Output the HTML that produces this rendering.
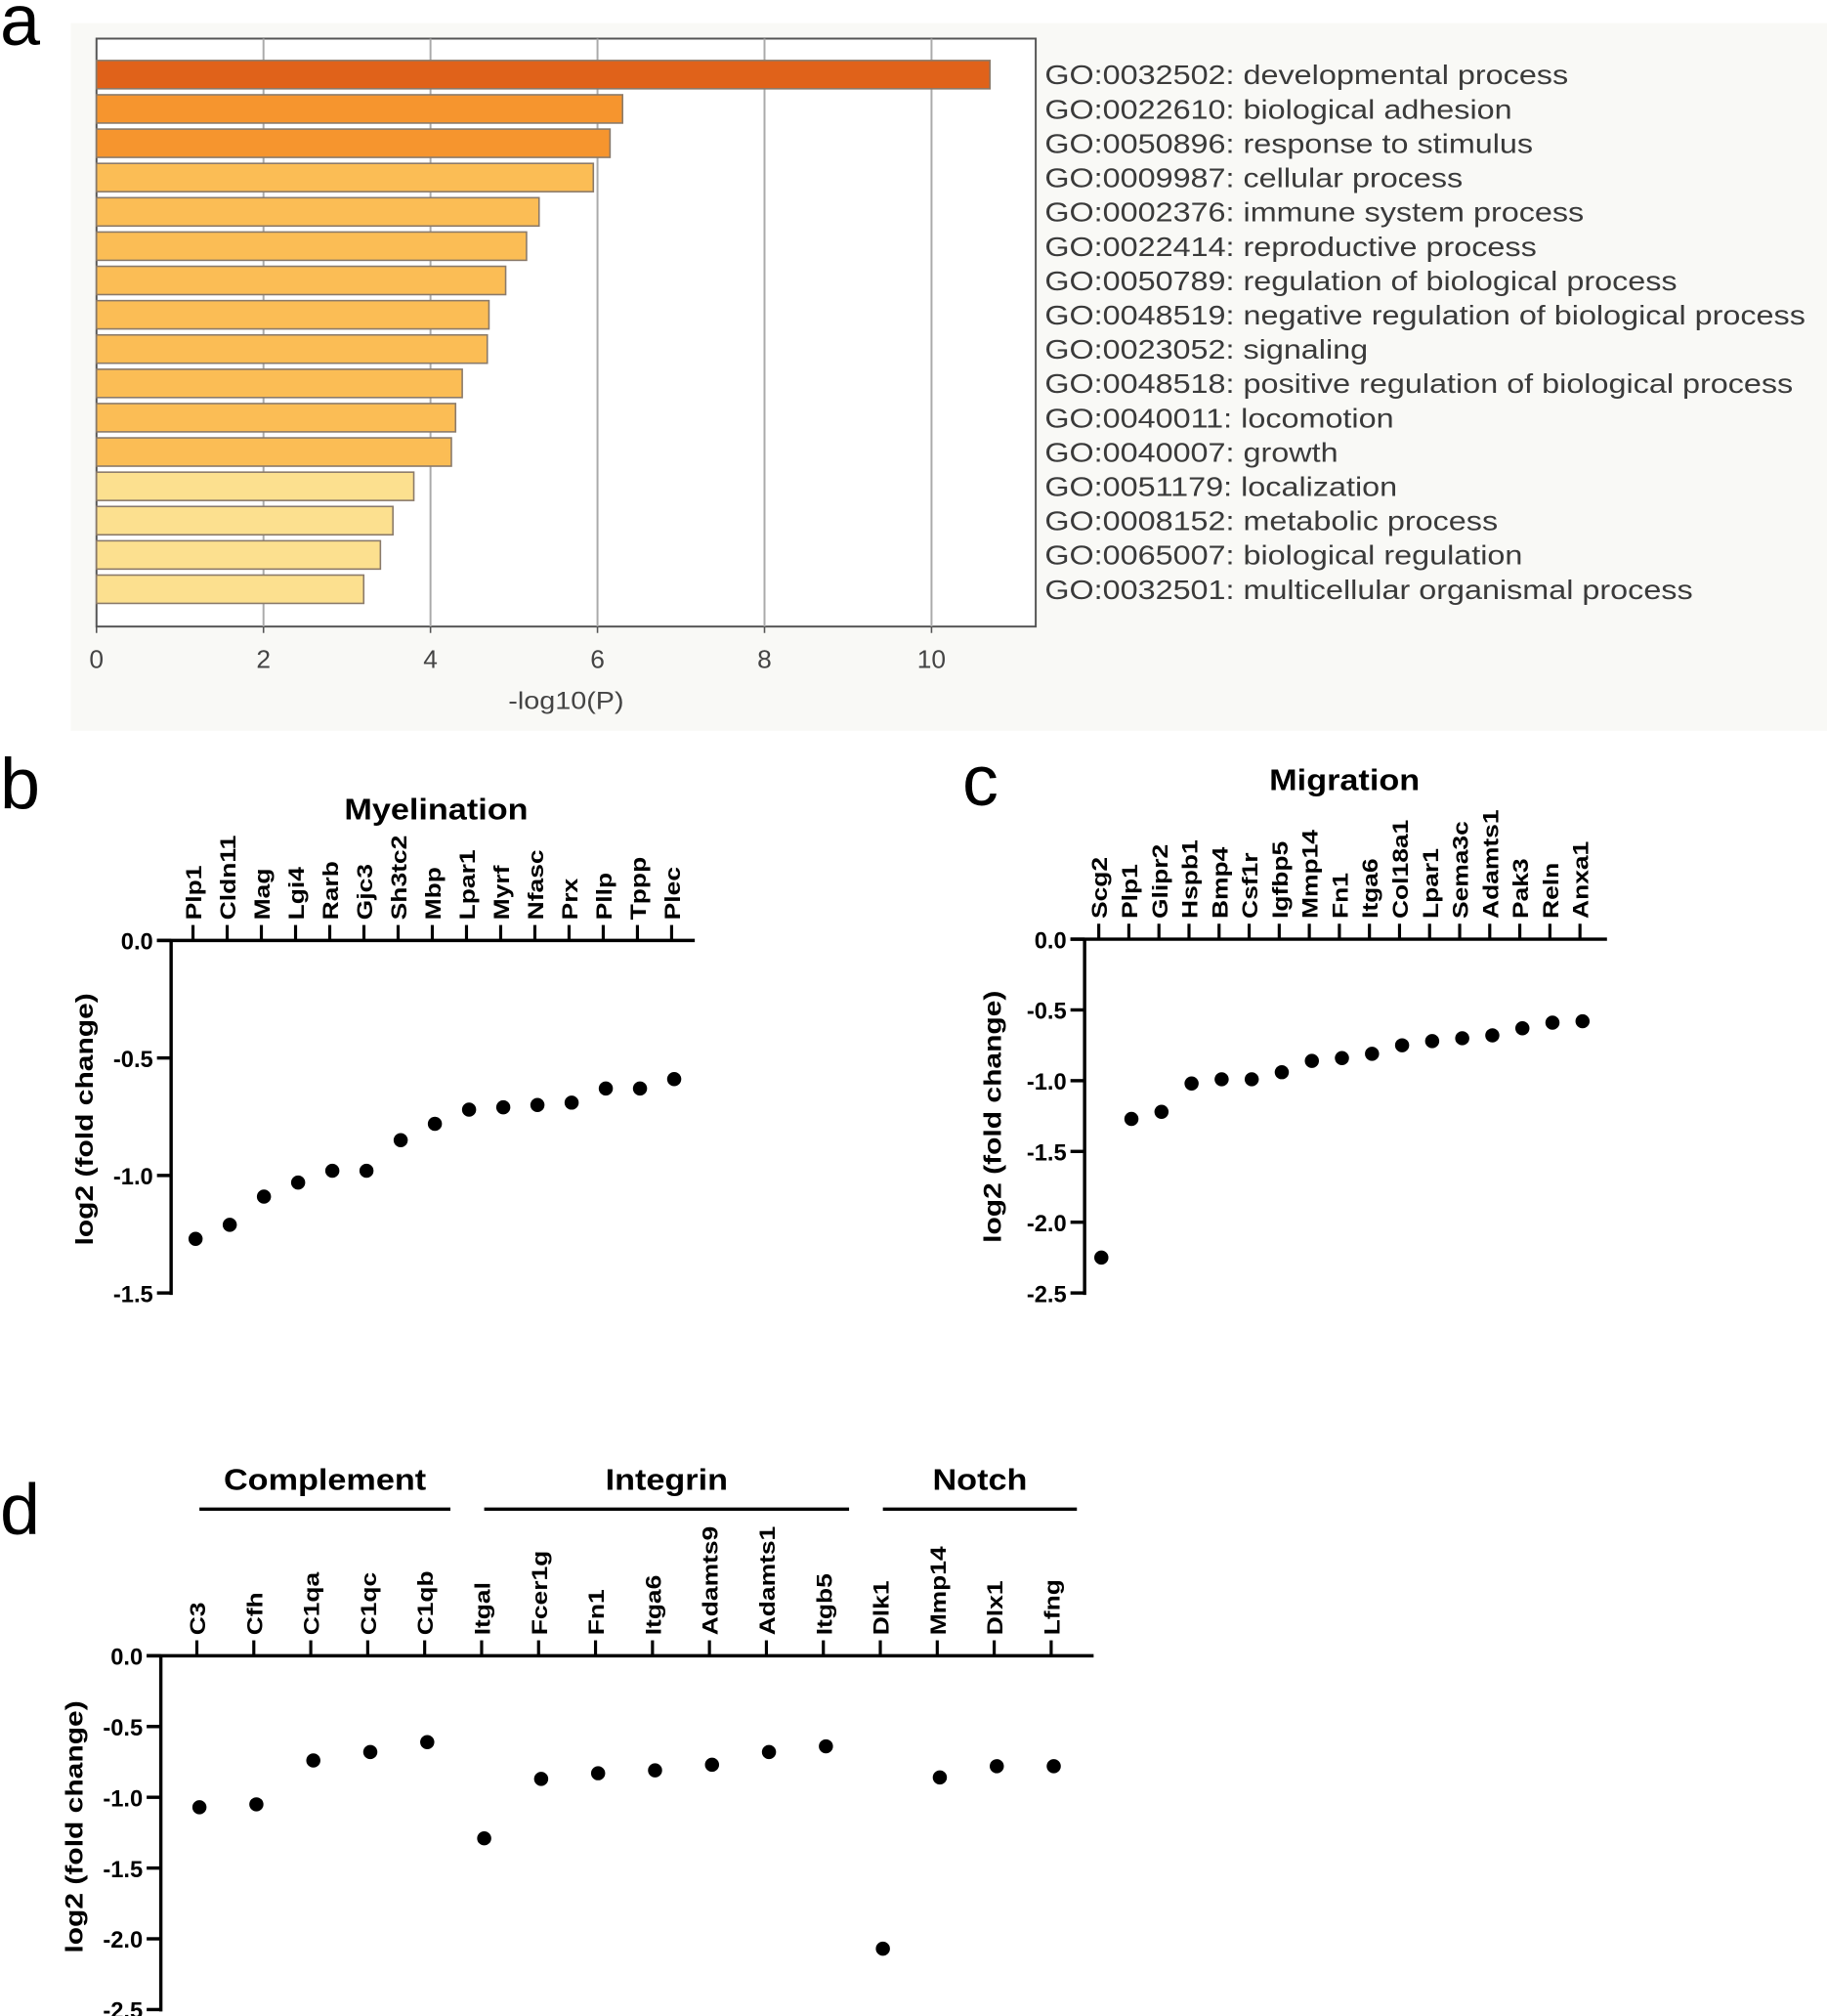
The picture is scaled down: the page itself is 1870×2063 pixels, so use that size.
<!DOCTYPE html>
<html><head><meta charset="utf-8"><style>
html,body{margin:0;padding:0;background:#fff}
svg{display:block}
text{font-family:"Liberation Sans",Arial,sans-serif}
</style></head><body>
<svg id="fig" width="1870" height="2063" viewBox="0 0 1420 1567" preserveAspectRatio="none" xmlns="http://www.w3.org/2000/svg">
<rect x="0" y="0" width="1420" height="1567" fill="#fff"/>
<rect x="55" y="18" width="1365" height="550" fill="#f9f9f6"/>
<g id="ga"></g>
<g id="gb"></g>
<g id="gc"></g>
<g id="gd"></g>
</svg>
<script>
// Panel a data
const goTerms = ["GO:0032502: developmental process","GO:0022610: biological adhesion","GO:0050896: response to stimulus","GO:0009987: cellular process","GO:0002376: immune system process","GO:0022414: reproductive process","GO:0050789: regulation of biological process","GO:0048519: negative regulation of biological process","GO:0023052: signaling","GO:0048518: positive regulation of biological process","GO:0040011: locomotion","GO:0040007: growth","GO:0051179: localization","GO:0008152: metabolic process","GO:0065007: biological regulation","GO:0032501: multicellular organismal process"];
const goValues = [10.7,6.3,6.15,5.95,5.3,5.15,4.9,4.7,4.68,4.38,4.3,4.25,3.8,3.55,3.4,3.2];
const goColors = ["#e0621a","#f6952e","#f6952e","#fbbd55","#fbbd55","#fbbd55","#fbbd55","#fbbd55","#fbbd55","#fbbd55","#fbbd55","#fbbd55","#fce08f","#fce08f","#fce08f","#fce08f"];
const aTicks = [0,2,4,6,8,10];
// Panel b data
const myelGenes = ["Plp1","Cldn11","Mag","Lgi4","Rarb","Gjc3","Sh3tc2","Mbp","Lpar1","Myrf","Nfasc","Prx","Pllp","Tppp","Plec"];
const myelValues = [-1.27,-1.21,-1.09,-1.03,-0.98,-0.98,-0.85,-0.78,-0.72,-0.71,-0.70,-0.69,-0.63,-0.63,-0.59];
const bTicks = [0.0,-0.5,-1.0,-1.5];
// Panel c data
const migGenes = ["Scg2","Plp1","Glipr2","Hspb1","Bmp4","Csf1r","Igfbp5","Mmp14","Fn1","Itga6","Col18a1","Lpar1","Sema3c","Adamts1","Pak3","Reln","Anxa1"];
const migValues = [-2.25,-1.27,-1.22,-1.02,-0.99,-0.99,-0.94,-0.86,-0.84,-0.81,-0.75,-0.72,-0.70,-0.68,-0.63,-0.59,-0.58];
const cTicks = [0.0,-0.5,-1.0,-1.5,-2.0,-2.5];
// Panel d data
const pathGenes = ["C3","Cfh","C1qa","C1qc","C1qb","Itgal","Fcer1g","Fn1","Itga6","Adamts9","Adamts1","Itgb5","Dlk1","Mmp14","Dlx1","Lfng"];
const pathValues = [-1.07,-1.05,-0.74,-0.68,-0.61,-1.29,-0.87,-0.83,-0.81,-0.77,-0.68,-0.64,-2.07,-0.86,-0.78,-0.78];
const groupNames = ["Complement","Integrin","Notch"];
const groupStart = [0,5,12];
const groupEnd = [4,11,15];
const dTicks = [0.0,-0.5,-1.0,-1.5,-2.0,-2.5];

const NS="http://www.w3.org/2000/svg";
function mk(parent,tag,attrs,txt){const e=document.createElementNS(NS,tag);for(const k in attrs)e.setAttribute(k,attrs[k]);if(txt!==undefined)e.textContent=txt;parent.appendChild(e);return e;}
function fit(el,f){const w=el.getComputedTextLength();if(w>0){el.setAttribute('textLength',(w*f).toFixed(1));el.setAttribute('lengthAdjust','spacingAndGlyphs');}}

// ---- Panel a
(function(){
  const g=document.getElementById('ga');
  const x0=75,x1=805,y0=30,y1=487,ux=(724-75)/10;
  const xs=v=>x0+v*ux;
  const t=mk(g,'text',{x:0,y:35,'font-size':56,fill:'#000'},'a');
  
  
  mk(g,'rect',{x:x0,y:y0,width:x1-x0,height:y1-y0,fill:'#fff',stroke:'#555','stroke-width':1.5});
  aTicks.forEach(v=>{
    const x=xs(v);
    if(v>0){const gl=mk(g,'line',{x1:x,x2:x,y1:y0,y2:y1,stroke:'#aaa','stroke-width':1.5});
      
      }
    mk(g,'line',{x1:x,x2:x,y1:y1,y2:y1+5,stroke:'#555','stroke-width':1.2});
    const tl=mk(g,'text',{x:x,y:y1+32,'font-size':20,fill:'#444','text-anchor':'middle'},String(v));
    
    
  });
  const xt=mk(g,'text',{x:440,y:551,'font-size':19,fill:'#444','text-anchor':'middle'},'-log10(P)');
  
  
  fit(xt,1.15);
  const step=(458-58)/(goValues.length-1);
  goValues.forEach((v,i)=>{
    const cy=58+i*step;
    const r=mk(g,'rect',{x:x0,y:cy-11,width:xs(v)-x0,height:22,fill:goColors[i],stroke:'#8a7a6a','stroke-width':1.2});
    
    
    const l=mk(g,'text',{x:812,y:cy+7.5,'font-size':21,fill:'#3a3a3a'},goTerms[i]);
    
    
    fit(l,1.17);
  });
})();

// ---- dot plots
function dotPlot(g,o){
  const ys=v=>o.y0-v*o.uy;
  const ax=mk(g,'line',{x1:o.axX,x2:o.axX,y1:o.y0,y2:ys(o.ticks[o.ticks.length-1])+1.5,stroke:'#000','stroke-width':2.6});
  
  
  const tx=mk(g,'line',{x1:o.axX-11,x2:o.xEnd,y1:o.y0,y2:o.y0,stroke:'#000','stroke-width':2.6});
  
  
  o.ticks.forEach(v=>{
    const y=ys(v);
    mk(g,'line',{x1:o.axX-11,x2:o.axX,y1:y,y2:y,stroke:'#000','stroke-width':2.6});
    const tl=mk(g,'text',{x:o.axX-14,y:y+7,'font-size':18,'font-weight':'bold','text-anchor':'end',fill:'#000'},v.toFixed(1));
    
    
  });
  const step=(o.xLast-o.xFirst)/(o.genes.length-1);
  o.genes.forEach((gn,i)=>{
    const x=o.xFirst+i*step;
    mk(g,'line',{x1:x,x2:x,y1:o.y0,y2:o.y0-12,stroke:'#000','stroke-width':2.4});
    const l=mk(g,'text',{x:0,y:0,'font-size':17,'font-weight':'bold',fill:'#000',transform:`translate(${x+6.5},${o.y0-16}) rotate(-90)`},gn);
    
    
    fit(l,1.18);
    const d=mk(g,'circle',{cx:x+2,cy:ys(o.values[i]),r:5.5,fill:'#000'});
    
    
  });
  const yt=mk(g,'text',{x:0,y:0,'font-size':19,'font-weight':'bold','text-anchor':'middle',fill:'#000',transform:`translate(${o.titleX},${o.titleY}) rotate(-90)`},'log2 (fold change)');
  
  
  fit(yt,1.2);
  return step;
}
(function(){
  const g=document.getElementById('gb');
  const p=mk(g,'text',{x:0,y:628,'font-size':56,fill:'#000'},'b');
  
  
  const t=mk(g,'text',{x:339,y:637,'font-size':23,'font-weight':'bold','text-anchor':'middle',fill:'#000'},'Myelination');
  
  
  fit(t,1.13);
  dotPlot(g,{genes:myelGenes,values:myelValues,ticks:bTicks,axX:133,y0:731,uy:(1005-731)/1.5,xFirst:150,xLast:522,xEnd:540,titleX:72,titleY:870});
})();
(function(){
  const g=document.getElementById('gc');
  const p=mk(g,'text',{x:748,y:626,'font-size':56,fill:'#000'},'c');
  
  
  const t=mk(g,'text',{x:1045,y:614,'font-size':23,'font-weight':'bold','text-anchor':'middle',fill:'#000'},'Migration');
  
  
  fit(t,1.13);
  dotPlot(g,{genes:migGenes,values:migValues,ticks:cTicks,axX:843,y0:730,uy:(1005-730)/2.5,xFirst:854,xLast:1228,xEnd:1249,titleX:778,titleY:868});
})();
(function(){
  const g=document.getElementById('gd');
  const p=mk(g,'text',{x:0,y:1192,'font-size':56,fill:'#000'},'d');
  
  
  const xFirst=153,xLast=817;
  const step=dotPlot(g,{genes:pathGenes,values:pathValues,ticks:dTicks,axX:125,y0:1287,uy:(1562-1287)/2.5,xFirst:xFirst,xLast:xLast,xEnd:850,titleX:64,titleY:1420});
  groupNames.forEach((n,i)=>{
    const a=xFirst+groupStart[i]*step+2, b=xFirst+groupEnd[i]*step+20;
    const l=mk(g,'line',{x1:a,x2:b,y1:1173,y2:1173,stroke:'#000','stroke-width':2.6});
    
    
    const t=mk(g,'text',{x:(a+b)/2,y:1158,'font-size':23,'font-weight':'bold','text-anchor':'middle',fill:'#000'},n);
    
    
    fit(t,1.13);
  });
})();
</script>
</body></html>
